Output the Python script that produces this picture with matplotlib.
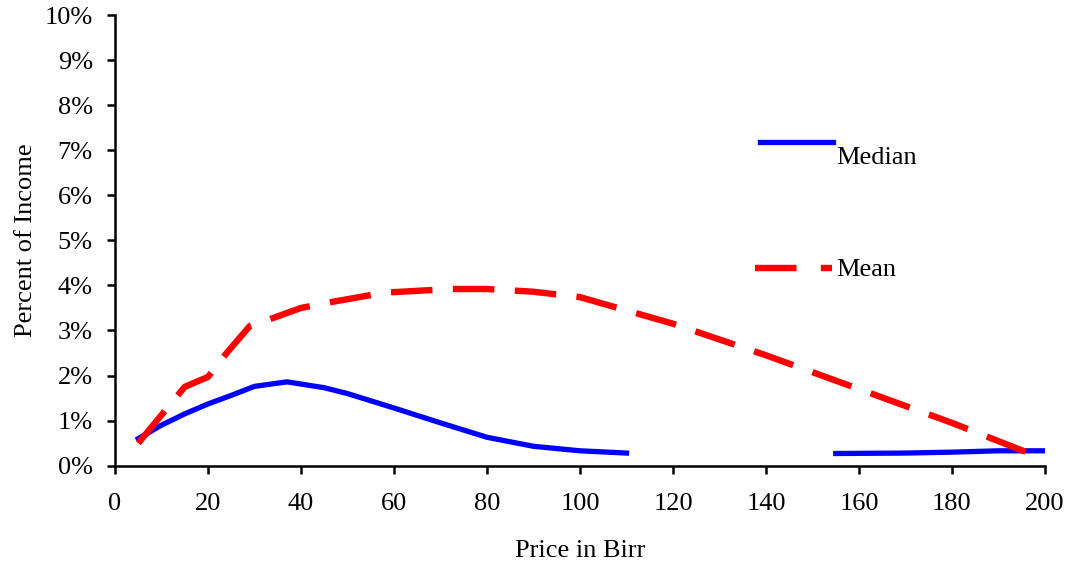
import numpy as np
import matplotlib
matplotlib.use("Agg")
import matplotlib.pyplot as plt
from matplotlib.lines import Line2D
from matplotlib.ticker import FuncFormatter

plt.rcParams['font.family'] = ['Liberation Serif', 'DejaVu Serif']

# Median share of income (%), gap where the line is not drawn
median_price = [5, 10, 15, 20, 25, 30, 37, 45, 50, 60, 70, 80, 90, 100, 110, 130, 155, 170, 180, 190, 200]
median_pct = [0.6, 0.9, 1.15, 1.37, 1.56, 1.76, 1.86, 1.73, 1.6, 1.28, 0.95, 0.63, 0.43, 0.33, 0.28,
              np.nan, 0.27, 0.28, 0.30, 0.33, 0.33]

# Mean share of income (%)
mean_price = [5, 15, 20, 24, 29, 33, 40, 47, 58, 72, 80, 90, 100, 120, 140, 160, 180, 198]
mean_pct = [0.5, 1.75, 1.97, 2.5, 3.1, 3.24, 3.5, 3.64, 3.84, 3.92, 3.92, 3.86, 3.74, 3.15, 2.45, 1.7, 0.95, 0.22]

x_ticks = list(range(0, 201, 20))
y_ticks = list(range(0, 11, 1))

FS = 19

fig = plt.figure(figsize=(10.7, 5.67), dpi=100)
ax = fig.add_axes([0.1075, 0.1787, 0.8691, 0.7948])

ax.plot(median_price, median_pct, color='#0000FF', lw=3.8, solid_joinstyle='round')
ax.plot(mean_price, mean_pct, color='#FF0000', lw=4.6, dashes=(6.5, 3.2))

ax.set_xlim(0, 200)
ax.set_ylim(0, 10)
ax.set_xticks(x_ticks)
ax.set_yticks(y_ticks)
ax.yaxis.set_major_formatter(FuncFormatter(lambda v, p: f"{int(v)}%"))

for s in ['top', 'right']:
    ax.spines[s].set_visible(False)
for s in ['left', 'bottom']:
    ax.spines[s].set_linewidth(1.8)
ax.tick_params(axis='both', direction='out', length=6, width=1.8, labelsize=FS, colors='black')
ax.tick_params(axis='x', pad=14)
ax.tick_params(axis='y', pad=10)

ax.set_xlabel("Price in Birr", fontsize=FS)
ax.set_ylabel("Percent of Income", fontsize=FS)
ax.xaxis.set_label_coords(0.5, -0.165)
ax.yaxis.set_label_coords(-0.084, 0.5)

# custom legend
ax.add_line(Line2D([0.6935, 0.772], [0.718, 0.718], transform=ax.transAxes,
                   color='#0000FF', lw=3.8, clip_on=False))
ax.text(0.776, 0.683, "Median", transform=ax.transAxes, fontsize=FS, va='center', ha='left')
ax.add_line(Line2D([0.688, 0.771], [0.4387, 0.4387], transform=ax.transAxes,
                   color='#FF0000', lw=4.6, dashes=(6.5, 3.8), clip_on=False))
ax.text(0.776, 0.434, "Mean", transform=ax.transAxes, fontsize=FS, va='center', ha='left')

fig.savefig("out.png", dpi=100)
